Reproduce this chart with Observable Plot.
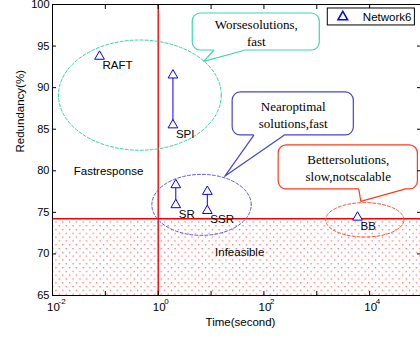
<!DOCTYPE html>
<html><head><meta charset="utf-8">
<script src="https://cdn.jsdelivr.net/npm/d3@7"></script>
<script src="https://cdn.jsdelivr.net/npm/@observablehq/plot@0.6"></script>
<style>html,body{margin:0;padding:0;background:#fff;overflow:hidden}</style>
</head><body><div id="chart"></div>
<script>
// ---- data ----
const methods = ["RAFT", "SPI", "SR", "SSR", "BB"];
const timeSec = [0.0776, 1.9, 2.15, 8.5, 5900];
const redundancyLow = [93.75, 85.5, 75.9, 75.2, 74.4];
const redundancyHigh = [null, 91.5, 78.3, 77.5, null];
const feasibleMin = 74.24;
const xTicks = [0.01, 0.1, 1, 10, 100, 1000, 10000];
const xLabelTicks = [0.01, 1, 100, 10000];
const yTicks = [65, 70, 75, 80, 85, 90, 95, 100];
const seriesName = "Network6";
const regionLabels = ["Fastresponse", "Infeasible"];
const regionX = [0.115, 34.8];
const regionY = [79.93, 70.19];
const ellipseCx = [0.45, 6.6, 8100];
const ellipseCy = [89.1, 75.9, 74.1];
const ellipseRx = [1.54, 0.94, 0.74];   // in decades
const ellipseRy = [6.63, 3.67, 2.07];   // in percent
const calloutLines = [["Worsesolutions,", "fast"], ["Nearoptimal", "solutions,fast"], ["Bettersolutions,", "slow,notscalable"]];
const calloutX1 = [4.5, 25.6, 190];
const calloutX2 = [1140, 5020, 81800];
const calloutY1 = [94.47, 84.25, 77.76];
const calloutY2 = [98.92, 89.42, 83.05];
const pointerBaseA = [11.2, 64, 6240];
const pointerBaseB = [41.4, 237, 44500];
const pointerTipX = [7.24, 18.1, 6810];
const pointerTipY = [93.15, 79.33, 76.32];
const ellipseColors = ["#33d6a6", "#5a5ae0", "#ff4a2a"];
const boxColors = ["#38d8ae", "#4444d4", "#ff3c1c"];
const legendBox = {x1: 1615, x2: 71800, y1: 97.48, y2: 99.52, symX: 3105, textX: 7430, y: 98.5};

// ---- build ----
const xDomain = [0.01, 1e5], yDomain = [65, 100];
const points = methods.map((m, i) => ({method: m, t: timeSec[i], lo: redundancyLow[i], hi: redundancyHigh[i]}));
const tris = points.flatMap(p => p.hi == null ? [{t: p.t, r: p.lo}] : [{t: p.t, r: p.lo}, {t: p.t, r: p.hi}]);
const pairs = points.filter(p => p.hi != null);
const sans = "'Liberation Sans', Arial, sans-serif";
const serif = "'Liberation Serif', 'Times New Roman', serif";

const marks = [];
marks.push(Plot.rect([{x1: xDomain[0], x2: xDomain[1], y1: yDomain[0], y2: feasibleMin}],
  {x1: "x1", x2: "x2", y1: "y1", y2: "y2", fill: "url(#dots)"}));
marks.push(Plot.ruleY([feasibleMin], {x1: xDomain[0], x2: xDomain[1], stroke: "#ff0000", strokeWidth: 1.4}));
marks.push(Plot.ruleX([1], {y1: yDomain[0], y2: yDomain[1], stroke: "#ff0000", strokeWidth: 1.4}));

// ellipses
ellipseCx.forEach((cx, i) => {
  const pts = d3.range(0, 121).map(k => {
    const a = k / 120 * 2 * Math.PI;
    return {x: Math.pow(10, Math.log10(cx) + ellipseRx[i] * Math.cos(a)), y: ellipseCy[i] + ellipseRy[i] * Math.sin(a)};
  });
  marks.push(Plot.line(pts, {x: "x", y: "y", stroke: ellipseColors[i], strokeWidth: 1, strokeDasharray: "3,2", curve: "linear"}));
});

// callouts
calloutLines.forEach((lines, i) => {
  const yE = calloutY1[i];
  marks.push(Plot.rect([{x1: calloutX1[i], x2: calloutX2[i], y1: calloutY1[i], y2: calloutY2[i]}],
    {x1: "x1", x2: "x2", y1: "y1", y2: "y2", fill: "white", stroke: boxColors[i], strokeWidth: 1.2, rx: 8}));
  const cover = [
    {x: pointerBaseA[i], y: yE + 0.35}, {x: pointerBaseA[i], y: yE}, {x: pointerTipX[i], y: pointerTipY[i]},
    {x: pointerBaseB[i], y: yE}, {x: pointerBaseB[i], y: yE + 0.35}];
  marks.push(Plot.line(cover, {x: "x", y: "y", fill: "white", stroke: "none"}));
  const ptr = [{x: pointerBaseA[i], y: yE}, {x: pointerTipX[i], y: pointerTipY[i]}, {x: pointerBaseB[i], y: yE}];
  marks.push(Plot.line(ptr, {x: "x", y: "y", stroke: boxColors[i], strokeWidth: 1.2}));
  marks.push(Plot.text([lines.join("\n")], {
    x: Math.sqrt(calloutX1[i] * calloutX2[i]), y: (calloutY1[i] + calloutY2[i]) / 2,
    text: d => d, fontFamily: serif, fontSize: 13, lineHeight: 1.3, fill: "black"}));
});

// data
marks.push(Plot.link(pairs, {x1: "t", x2: "t", y1: "lo", y2: "hi", stroke: "#0000ff", strokeWidth: 1}));
marks.push(Plot.dot(tris, {x: "t", y: "r", symbol: "triangle", r: 3.6, stroke: "#0000ff", fill: "white", strokeWidth: 1}));
marks.push(Plot.text(points, {x: "t", y: "lo", text: "method", dx: 3, dy: 9, textAnchor: "start", fontSize: 11.5, fill: "black"}));

// region labels
marks.push(Plot.text(regionLabels, {x: (d, i) => regionX[i], y: (d, i) => regionY[i], text: d => d, fontSize: 11.5, fill: "black"}));

// frame
marks.push(Plot.ruleY([yDomain[0], yDomain[1]], {x1: xDomain[0], x2: xDomain[1], stroke: "black", strokeWidth: 1}));
marks.push(Plot.ruleX([xDomain[0]], {y1: yDomain[0], y2: yDomain[1], stroke: "black", strokeWidth: 1}));

// axes
marks.push(Plot.axisY(yTicks, {tickSize: 0, tickPadding: 3, fontSize: 11, label: null}));
marks.push(Plot.axisY(yTicks, {tickSize: -4, tickFormat: () => "", label: null}));
marks.push(Plot.axisY(yTicks, {anchor: "right", tickSize: -4, tickFormat: () => "", label: null}));
marks.push(Plot.axisX(xTicks, {tickSize: -4, tickFormat: () => "", label: null}));
marks.push(Plot.axisX(xTicks, {anchor: "top", tickSize: -4, tickFormat: () => "", label: null}));
marks.push(Plot.text(xLabelTicks, {x: d => d, frameAnchor: "bottom", text: () => "10", dy: 15, dx: 1, fontSize: 11.5, fill: "black"}));
marks.push(Plot.text(xLabelTicks, {x: d => d, frameAnchor: "bottom", text: d => String(Math.round(Math.log10(d))), dx: 6, dy: 8.5, textAnchor: "start", fontSize: 8, fill: "black"}));
marks.push(Plot.text(["Time(second)"], {frameAnchor: "bottom", text: d => d, dy: 30, dx: 4, fontSize: 11.5, fill: "black"}));
marks.push(Plot.text(["Redundancy(%)"], {frameAnchor: "left", text: d => d, dx: -32, dy: 2.5, rotate: -90, fontSize: 11.5, fill: "black"}));

// legend
marks.push(Plot.rect([legendBox], {x1: "x1", x2: "x2", y1: "y1", y2: "y2", fill: "white", stroke: "black", strokeWidth: 1}));
marks.push(Plot.dot([legendBox], {x: "symX", y: "y", symbol: "triangle", r: 3.6, stroke: "#0000ff", fill: "white"}));
marks.push(Plot.text([seriesName], {x: legendBox.textX, y: legendBox.y, text: d => d, textAnchor: "start", fontSize: 11.5, fill: "black"}));

const svg = Plot.plot({
  width: 420, height: 337,
  marginLeft: 52, marginTop: 4, marginBottom: 42, marginRight: 0,
  x: {type: "log", domain: xDomain, range: [52, 422], label: null},
  y: {domain: yDomain, range: [295, 4], label: null},
  style: {fontFamily: sans, fontSize: "11px", color: "black", background: "white", overflow: "hidden"},
  marks
});
const defs = d3.select(svg).insert("defs", ":first-child");
const pat = defs.append("pattern").attr("id", "dots").attr("patternUnits", "userSpaceOnUse")
  .attr("width", 6.8).attr("height", 7.6);
pat.append("rect").attr("x", 1).attr("y", 1).attr("width", 1.2).attr("height", 1.2).attr("fill", "#ff5050");
pat.append("rect").attr("x", 4.4).attr("y", 4.8).attr("width", 1.2).attr("height", 1.2).attr("fill", "#ff5050");
document.getElementById("chart").appendChild(svg);
</script>
</body></html>
